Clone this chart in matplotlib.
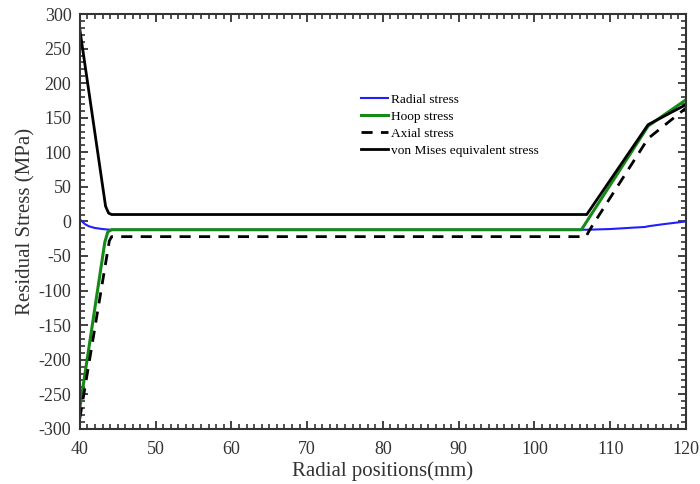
import numpy as np
import matplotlib.pyplot as plt
from matplotlib.ticker import MultipleLocator

plt.rcParams['font.family'] = ['Liberation Serif', 'DejaVu Serif']
plt.rcParams['axes.unicode_minus'] = False

# radial stress
x_rad = [40, 40.3, 40.7, 41.2, 42, 43, 44, 60, 80, 100, 107, 110, 113, 114.6, 115, 117, 120]
y_rad = [3, 0, -4, -7, -9.5, -11, -12, -12, -12, -12, -12, -11, -9, -8, -7, -4, 0]

# hoop stress
x_hoop = [40, 43.3, 43.7, 44.2, 106.2, 115, 120]
y_hoop = [-270, -30, -15, -12, -12, 138, 176]

# axial stress
x_ax = [40, 43.9, 44.2, 106, 106.8, 107.3, 115, 120]
y_ax = [-285, -28, -22, -22, -22, -12, 120, 164]

# von Mises
x_vm = [40, 43.4, 43.8, 44.2, 106.9, 115, 120]
y_vm = [278, 22, 12, 10, 10, 140, 169]

fig = plt.figure(figsize=(7, 4.84), dpi=100)
ax = fig.add_axes([0.114, 0.114, 0.866, 0.857])

ax.plot(x_rad, y_rad, color='#1f1fff', lw=1.5, label='Radial stress')
ax.plot(x_hoop, y_hoop, color='#168a16', lw=2.2, label='Hoop stress')
ax.plot(x_ax, y_ax, color='black', lw=2, ls=(0, (4, 3)), label='Axial stress')
ax.plot(x_vm, y_vm, color='black', lw=2, label='von Mises equivalent stress')

ax.set_xlim(40, 120)
ax.set_ylim(-300, 300)
ax.xaxis.set_major_locator(MultipleLocator(10))
ax.xaxis.set_minor_locator(MultipleLocator(1))
ax.yaxis.set_major_locator(MultipleLocator(50))
ax.yaxis.set_minor_locator(MultipleLocator(10))
ax.tick_params(which='both', direction='in', top=True, right=True, labelsize=13, colors='#333333', labelcolor='#333333')
ax.tick_params(which='major', length=6, width=1.3)
ax.tick_params(which='minor', length=3.5, width=1.2)
ax.tick_params(axis='x', which='major', pad=9)
ax.tick_params(axis='y', which='major', pad=6)
for s in ax.spines.values():
    s.set_linewidth(1.5)
    s.set_color('#333333')

ax.set_xlabel('Radial positions(mm)', fontsize=15, color='#333333', labelpad=2)
ax.set_ylabel('Residual Stress (MPa)', fontsize=15, color='#333333', labelpad=2)

ax.legend(loc='upper left', bbox_to_anchor=(0.455, 0.822), frameon=False, fontsize=9.6,
          handlelength=2.0, handletextpad=0.25, labelspacing=0.36, borderaxespad=0)

fig.savefig('out.png', dpi=100)
